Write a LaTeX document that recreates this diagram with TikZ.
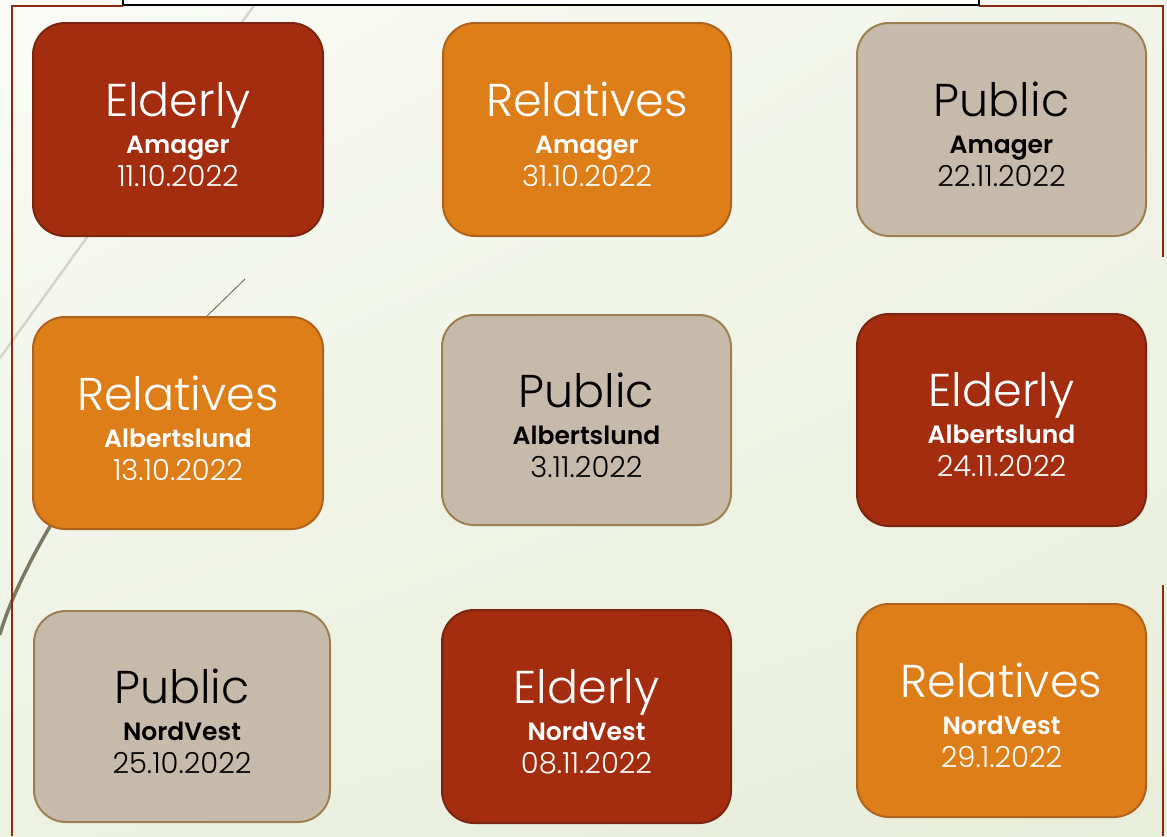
\documentclass[tikz,border=0pt]{standalone}
\usepackage{fontspec}
\usetikzlibrary{shadings}
\IfFontExistsTF{Poppins Light}{%
  \setmainfont{Poppins}[UprightFont=* Light, BoldFont=* SemiBold]%
}{%
  \setmainfont{Poppins}%
}
\definecolor{bgTL}{HTML}{FAFBF7}
\definecolor{bgTR}{HTML}{F1F4E8}
\definecolor{bgBL}{HTML}{ECF1E0}
\definecolor{bgBR}{HTML}{E8EEDA}
\definecolor{frameRed}{HTML}{8A2A12}
\definecolor{redFill}{HTML}{A52D0F}
\definecolor{redLine}{HTML}{7A2510}
\definecolor{orFill}{HTML}{DE7E19}
\definecolor{orLine}{HTML}{B0621C}
\definecolor{beFill}{HTML}{C8BAAA}
\definecolor{beLine}{HTML}{9E8050}
\definecolor{wispLight}{HTML}{D3D5CA}
\definecolor{wispDark}{HTML}{7C7862}
\tikzset{
  card/.style={rounded corners=32pt, line width=2pt, align=center,
    inner sep=0pt, font=\fontsize{29}{33}\selectfont},
  redcard/.style={card, fill=redFill, draw=redLine, text=white},
  orcard/.style={card, fill=orFill, draw=orLine, text=white},
  becard/.style={card, fill=beFill, draw=beLine, text=black},
}
\newcommand{\cardtext}[3]{\setbox0=\hbox{\fontsize{46}{33}\selectfont #1}\rule{0pt}{\dimexpr\ht0+10pt\relax}\box0\\[4pt]{\bfseries\fontsize{25}{33}\selectfont #2}\\[0pt]#3}
\begin{document}
\begin{tikzpicture}[x=1pt,y=-1pt]
\useasboundingbox (0,0) rectangle (1167,836);
\shade[upper left=bgTL, upper right=bgTR, lower left=bgBL, lower right=bgBR] (0,0) rectangle (1167,836);
% decorative wisps
\draw[wispLight, line width=2.5pt] (258,0) -- (0,358);
\draw[wispDark!80!black, line width=0.8pt] (245,279) -- (205,318);
\draw[wispDark, line width=3.5pt, line cap=round] (52,523) .. controls (30,560) and (10,600) .. (0,634);
% frame
\draw[frameRed, line width=2pt] (123,6) -- (12,6) -- (12,836);
\draw[frameRed, line width=2pt] (979,6) -- (1163,6) -- (1163,257);
\draw[frameRed, line width=2pt] (1163,585) -- (1163,836);
\draw[black, fill=white, line width=2pt] (123,-4) rectangle (979,5);
% cards
\node[redcard, minimum width=290pt, minimum height=213pt] (e1) at (178,129.5) {\cardtext{Elderly}{Amager}{11.10.2022}};
\node[orcard, minimum width=288pt, minimum height=213pt] (r1) at (587,129.5) {\cardtext{Relatives}{Amager}{31.10.2022}};
\node[becard, minimum width=289pt, minimum height=213pt] (p1) at (1001.5,129.5) {\cardtext{Public}{Amager}{22.11.2022}};
\node[orcard, minimum width=290pt, minimum height=212pt] (r2) at (178,423) {\cardtext{Relatives}{Albertslund}{13.10.2022}};
\node[becard, minimum width=289pt, minimum height=210pt] (p2) at (586.5,420) {\cardtext{Public}{Albertslund}{3.11.2022}};
\node[redcard, minimum width=289pt, minimum height=212pt] (e2) at (1001.5,420) {\cardtext{Elderly}{Albertslund}{24.11.2022}};
\node[becard, minimum width=296pt, minimum height=211pt] (p3) at (182,716.5) {\cardtext{Public}{NordVest}{25.10.2022}};
\node[redcard, minimum width=289pt, minimum height=213pt] (e3) at (586.5,716.5) {\cardtext{Elderly}{NordVest}{08.11.2022}};
\node[orcard, minimum width=289pt, minimum height=213pt] (r3) at (1001.5,710.5) {\cardtext{Relatives}{NordVest}{29.1.2022}};
\end{tikzpicture}
\end{document}
